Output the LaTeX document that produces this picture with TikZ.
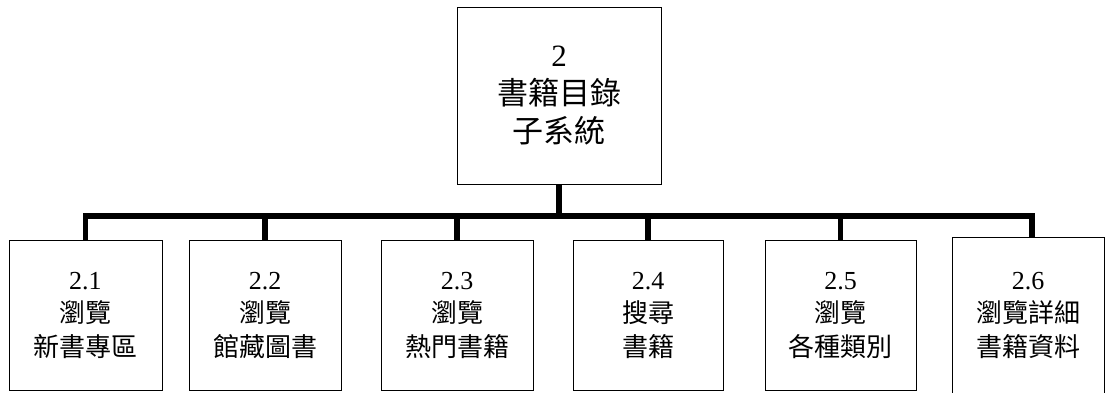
\documentclass[tikz,border=0pt]{standalone}
\usepackage{fontspec}
\setmainfont{Liberation Serif}
\newfontfamily\cjk{Noto Sans CJK TC}
\begin{document}
\begin{tikzpicture}[x=1pt,y=-1pt,
  box/.style={draw, line width=1pt, inner sep=0pt, minimum width=152pt, minimum height=150pt, align=center, font=\fontsize{26}{33.5}\selectfont},
  rootbox/.style={draw, line width=1pt, inner sep=0pt, minimum width=204pt, minimum height=177pt, align=center, font=\fontsize{31}{38}\selectfont},
  bar/.style={line width=5.5pt, line join=miter}]
\useasboundingbox (0,0) rectangle (1108,392);
\clip (0,0) rectangle (1108,392);
\node[rootbox] (root) at (559,95.5) {2\\{\cjk 書籍目錄}\\{\cjk 子系統}};
\node[box, minimum width=153pt] (b1) at (85.5,315) {2.1\\{\cjk 瀏覽}\\{\cjk 新書專區}};
\node[box] (b2) at (265,315) {2.2\\{\cjk 瀏覽}\\{\cjk 館藏圖書}};
\node[box] (b3) at (457,315) {2.3\\{\cjk 瀏覽}\\{\cjk 熱門書籍}};
\node[box, minimum width=150pt] (b4) at (648,315) {2.4\\{\cjk 搜尋}\\{\cjk 書籍}};
\node[box, minimum width=151pt] (b5) at (840.5,315) {2.5\\{\cjk 瀏覽}\\{\cjk 各種類別}};
\node[box, minimum height=156pt] (b6) at (1028,315) {2.6\\{\cjk 瀏覽詳細}\\{\cjk 書籍資料}};
\coordinate (bary) at (0,216);
\draw[bar] (b1.north) -- (b1.north |- bary) -| ([xshift=4pt]b6.north);
\draw[bar] (root.south) -- (root.south |- bary);
\draw[bar] (b2.north) -- (b2.north |- bary);
\draw[bar] (b3.north) -- (b3.north |- bary);
\draw[bar] (b4.north) -- (b4.north |- bary);
\draw[bar] (b5.north) -- (b5.north |- bary);
\end{tikzpicture}
\end{document}
